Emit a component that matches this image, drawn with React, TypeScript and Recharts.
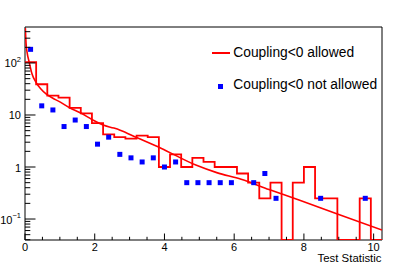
import React from "react";
import { ComposedChart, Line, Scatter, XAxis, YAxis, ReferenceArea, Legend, Label } from "recharts";

const FONT = "'Liberation Sans', Arial, Helvetica, sans-serif";

// histogram bin edges (32 bins)
const binEdges = [
  0, 0.32, 0.64, 0.96, 1.28, 1.6, 1.92, 2.24, 2.56, 2.88, 3.2, 3.52, 3.84, 4.16, 4.48, 4.8, 5.12,
  5.44, 5.76, 6.08, 6.4, 6.72, 7.04, 7.36, 7.68, 8.0, 8.32, 8.64, 8.96, 9.28, 9.6, 9.92, 10.24,
];

// "Coupling<0 allowed" histogram contents
const allowedCounts = [
  104, 39, 23.5, 21.5, 13.75, 10.75, 7, 4.25, 3.75, 3.5, 4, 3.75, 1, 1.75, 1, 1.5, 1.25, 1, 1,
  0.75, 0.5, 0.25, 0.5, 0, 0.5, 1, 0.25, 0.25, 0, 0, 0.25, 0,
];

// "Coupling<0 not allowed" markers (null = empty bin)
const notAllowedCounts = [
  183, 15, 12.5, 6, 8, 6, 2.75, 3.75, 1.75, 1.5, 1.25, 1.5, 1, 1.25, 0.5, 0.5, 0.5, 0.5, 0.5,
  null, 0.5, 0.75, 0.25, null, null, null, 0.25, null, null, null, 0.25, null,
];

// fitted curve
const fitX = [
  0.01, 0.03, 0.06, 0.12, 0.2, 0.32, 0.45, 0.62, 0.8, 0.96, 1.28, 1.6, 1.92, 2.24, 2.55, 2.73,
  3.2, 3.9, 4.9, 5.5, 6.2, 7.0, 7.9, 9.0, 10.24,
];
const fitY = [
  470, 240, 160, 104, 62, 42, 32, 25, 21, 18.5, 13.8, 10.9, 8.2, 6.4, 5.6, 5.1, 3.7, 2.3, 1.09,
  0.78, 0.58, 0.37, 0.227, 0.122, 0.0614,
];

const xTicks = [0, 0.5, 1, 1.5, 2, 2.5, 3, 3.5, 4, 4.5, 5, 5.5, 6, 6.5, 7, 7.5, 8, 8.5, 9, 9.5, 10];
const xLabels = [0, 2, 4, 6, 8, 10];

const yTicks = [
  0.04, 0.05, 0.06, 0.07, 0.08, 0.09, 0.1, 0.2, 0.3, 0.4, 0.5, 0.6, 0.7, 0.8, 0.9, 1, 2, 3, 4, 5,
  6, 7, 8, 9, 10, 20, 30, 40, 50, 60, 70, 80, 90, 100, 200, 300, 400,
];
const yMajor = [0.1, 1, 10, 100];
const yLabelBase = ["10", "1", "10", "10"];
const yLabelExp = ["\u22121", "", "", "2"];

const Y_MIN = 0.0395;
const Y_MAX = 492;
const X_MAX = 10.24;

const histData = binEdges.map((x, i) => ({
  x,
  v: Math.max(allowedCounts[Math.min(i, allowedCounts.length - 1)], Y_MIN),
}));

const pointData = notAllowedCounts
  .map((v, i) => ({ x: (binEdges[i] + binEdges[i + 1]) / 2, v }))
  .filter((d) => d.v !== null);

const fitData = fitX.map((x, i) => ({ x, v: fitY[i] }));

const YTick = (props: any) => {
  const { x, y, payload } = props;
  const axisX = x + 4;
  const i = yMajor.indexOf(payload.value);
  const major = i >= 0;
  return (
    <g>
      <line x1={axisX} x2={axisX + (major ? 10.5 : 5.3)} y1={y} y2={y} stroke="#000" strokeWidth={1} />
      {major && (
        <text x={x} y={y + 4.5} textAnchor="end" fontSize={11} fontFamily={FONT} fill="#000">
          {yLabelBase[i]}
          {yLabelExp[i] && (
            <tspan dy={-5.5} fontSize={7.5}>
              {yLabelExp[i]}
            </tspan>
          )}
        </text>
      )}
    </g>
  );
};

const XTick = (props: any) => {
  const { x, y, payload } = props;
  const axisY = y - 3;
  const major = xLabels.includes(payload.value);
  return (
    <g>
      <line x1={x} x2={x} y1={axisY} y2={axisY - (major ? 6.5 : 3.2)} stroke="#000" strokeWidth={1} />
      {major && (
        <text x={x} y={axisY + 10.7} textAnchor="middle" fontSize={11} fontFamily={FONT} fill="#000">
          {payload.value}
        </text>
      )}
    </g>
  );
};

const Square = (props: any) => {
  const { cx, cy } = props;
  return <rect x={cx - 2.5} y={cy - 2.5} width={5} height={5} fill="#0000ff" />;
};

const renderTitle = (props: any) => {
  const vb = props.viewBox;
  return (
    <text x={vb.x + vb.width - 0.5} y={vb.y + 21.6} textAnchor="end" fontSize={11.4} fontFamily={FONT} fill="#000">
      Test Statistic
    </text>
  );
};

const legendText: React.CSSProperties = {
  position: "absolute",
  left: 28.3,
  fontSize: 13.8,
  lineHeight: "16px",
  fontFamily: FONT,
  color: "#000",
  whiteSpace: "nowrap",
};

const renderLegend = () => (
  <div style={{ position: "relative", width: 200, height: 64 }}>
    <div style={{ position: "absolute", left: 6.7, top: 12.4, width: 18.3, height: 1.7, background: "#ff0000" }} />
    <div style={{ ...legendText, top: 4.5 }}>Coupling&lt;0 allowed</div>
    <div style={{ position: "absolute", left: 12.5, top: 43.5, width: 5, height: 5, background: "#0000ff" }} />
    <div style={{ ...legendText, top: 36.5 }}>Coupling&lt;0 not allowed</div>
  </div>
);

export default function App() {
  return (
    <div style={{ position: "absolute", left: 0, top: 0, width: 415, height: 267, background: "#fff" }}>
      <ComposedChart width={415} height={267} margin={{ top: 27, right: 33, left: 0, bottom: 0 }}>
        <XAxis
          dataKey="x"
          type="number"
          domain={[0, X_MAX]}
          allowDataOverflow
          ticks={xTicks}
          interval={0}
          tick={<XTick />}
          tickSize={0}
          tickMargin={3}
          tickLine={false}
          axisLine={false}
          height={27}
        >
          <Label content={renderTitle} />
        </XAxis>
        <YAxis
          dataKey="v"
          type="number"
          scale="log"
          domain={[Y_MIN, Y_MAX]}
          allowDataOverflow
          ticks={yTicks}
          interval={0}
          tick={<YTick />}
          tickSize={0}
          tickMargin={4}
          tickLine={false}
          axisLine={false}
          width={25}
        />
        <ReferenceArea x1={0} x2={X_MAX} y1={Y_MIN} y2={Y_MAX} fill="none" stroke="#000" strokeWidth={1} ifOverflow="visible" />
        <Line
          data={histData}
          dataKey="v"
          type="stepAfter"
          stroke="#ff0000"
          strokeWidth={1.8}
          dot={false}
          activeDot={false}
          isAnimationActive={false}
          legendType="line"
        />
        <Line
          data={fitData}
          dataKey="v"
          type="monotone"
          stroke="#ff0000"
          strokeWidth={1.6}
          dot={false}
          activeDot={false}
          isAnimationActive={false}
        />
        <Scatter data={pointData} dataKey="v" shape={<Square />} isAnimationActive={false} />
        <Legend
          layout="vertical"
          align="center"
          verticalAlign="middle"
          wrapperStyle={{ left: 205, top: 40, width: 200, height: 64 }}
          content={renderLegend}
        />
      </ComposedChart>
    </div>
  );
}
